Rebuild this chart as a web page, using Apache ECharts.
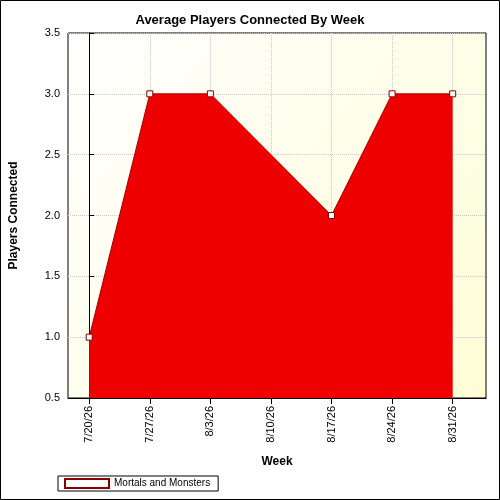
<!DOCTYPE html>
<html><head><meta charset="utf-8">
<script src="https://cdn.jsdelivr.net/npm/echarts@6/dist/echarts.min.js"></script>
<style>html,body{margin:0;padding:0;}#c{width:500px;height:500px;}</style>
</head><body><div id="c"></div>
<script>
var weeks = ['7/20/26','7/27/26','8/3/26','8/10/26','8/17/26','8/24/26','8/31/26'];
var players = [1.0, 3.0, 3.0, null, 2.0, 3.0, 3.0];
var yTicks = [0.5, 1.0, 1.5, 2.0, 2.5, 3.0, 3.5];

var data = [];
players.forEach(function(v, i){ if (v !== null) data.push([i, v]); });
var idx = weeks.map(function(w, i){ return i; });

var chart = echarts.init(document.getElementById('c'));
chart.setOption({
  animation: false,
  backgroundColor: '#ffffff',
  title: {text: 'Average Players Connected By Week', left: 'center', top: 9,
    textStyle: {fontFamily: 'Arial, Liberation Sans', fontSize: 13, fontWeight: 'bold', color: '#000'}},
  graphic: [
    {type: 'rect', shape: {x: 0.5, y: 0.5, width: 499, height: 499}, style: {fill: 'none', stroke: '#000', lineWidth: 1}, z: 100}
  ],
  grid: {left: 68, right: 14, top: 33, bottom: 102,
    show: true, borderColor: '#000', borderWidth: 1,
    backgroundColor: new echarts.graphic.LinearGradient(0, 0, 1, 1, [
      {offset: 0, color: '#ffffff'}, {offset: 1, color: '#fdfdd6'}])},
  legend: {left: 58, top: 476, itemWidth: 44, itemHeight: 9, padding: [2, 8, 2, 6],
    borderColor: '#000', borderWidth: 1, borderRadius: 0,
    textStyle: {fontFamily: 'Arial, Liberation Sans', fontSize: 10, color: '#000'},
    data: [{name: 'Mortals and Monsters', icon: 'rect'}]},
  xAxis: {type: 'value', min: -0.35, max: 6.55,
    name: 'Week', nameLocation: 'middle', nameGap: 58,
    nameTextStyle: {fontFamily: 'Arial, Liberation Sans', fontSize: 12, fontWeight: 'bold', color: '#000'},
    axisLine: {show: true, lineStyle: {color: '#000'}},
    axisTick: {show: true, customValues: idx, length: 6, lineStyle: {color: '#000'}},
    axisLabel: {customValues: idx, rotate: 90, margin: 8, fontFamily: 'Arial, Liberation Sans', fontSize: 11, color: '#000',
      formatter: function(v){ return weeks[Math.round(v)]; }},
    splitLine: {show: true, lineStyle: {color: '#c8c8c8', type: 'dotted'}},
  },
  yAxis: {type: 'value', min: 0.5, max: 3.5, interval: 0.5,
    name: 'Players Connected', nameLocation: 'middle', nameGap: 48,
    nameTextStyle: {fontFamily: 'Arial, Liberation Sans', fontSize: 12, fontWeight: 'bold', color: '#000'},
    axisLine: {show: true, lineStyle: {color: '#000'}},
    axisTick: {show: true, inside: true, length: 5, lineStyle: {color: '#000'}},
    axisLabel: {fontFamily: 'Arial, Liberation Sans', fontSize: 11, color: '#000',
      formatter: function(v){ return v.toFixed(1); }},
    splitLine: {show: true, lineStyle: {color: '#c8c8c8', type: 'dotted'}}
  },
  series: [{
    name: 'Mortals and Monsters', type: 'line', data: data,
    symbol: 'rect', symbolSize: 6,
    itemStyle: {color: '#ffffff', borderColor: '#880000', borderWidth: 1},
    lineStyle: {color: '#aa0000', width: 1},
    areaStyle: {color: '#ee0000', opacity: 1, origin: 'start'}
  }]
});
</script></body></html>
